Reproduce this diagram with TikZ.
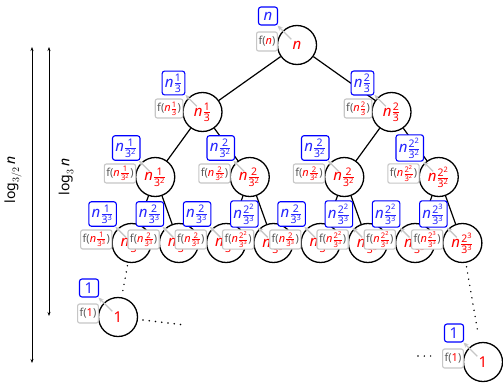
\documentclass[tikz,border=0pt]{standalone}
\usepackage{fontspec}
\setmainfont{Noto Sans}
\setsansfont{Noto Sans}
\usetikzlibrary{calc,arrows.meta}
\newcommand\nf[2]{$\mathit{n}\frac{\mathrm{#1}}{\mathrm{#2}}$}
\tikzset{
  tn/.style={circle, draw, line width=1.3pt, minimum size=39pt, inner sep=0pt, text=red, font=\fontsize{15}{17}\selectfont},
  bb/.style={draw=blue, line width=1.1pt, rounded corners=2.5pt, fill=white, text=blue!85, inner sep=2.8pt, minimum width=19pt, minimum height=18pt, font=\fontsize{15}{17}\selectfont},
  gb/.style={draw=gray!45, line width=1.1pt, rounded corners=2pt, fill=white, text=black!65, inner sep=2pt, minimum height=19pt, font=\fontsize{11}{13}\selectfont},
  pinarr/.style={draw=gray!45, line width=1.3pt, -{Stealth[length=5pt,width=4.5pt]}, shorten <=8pt},
  treeline/.style={line width=1.2pt},
  dotline/.style={line width=1.6pt, line cap=round, dash pattern=on 0pt off 6.3pt},
  dimarrow/.style={line width=0.9pt, {Stealth[length=4pt,width=3pt]}-{Stealth[length=4pt,width=3pt]}},
  dimlabel/.style={rotate=90, font=\fontsize{14}{16}\selectfont}
}
\newcommand\ann[3]{%
  \node[gb, anchor=east] (#1g) at ($(#1.west)+(1,-3.5)$) {f(\textcolor{red}{#3})};
  \node[bb] (#1b) at ($(#1)+(-29,-29)$) {#2};
  \draw[pinarr] (#1.center) -- (#1b);
}
\begin{document}
\begin{tikzpicture}[x=1pt,y=-1pt]
\useasboundingbox (0,0) rectangle (503,383);
% tree nodes
\node[tn] (r) at (297,45) {$\mathit{n}$};
\node[tn] (a1) at (202.5,112) {\nf{1}{3}};
\node[tn] (a2) at (391.5,112) {\nf{2}{3}};
\node[tn] (b1) at (155.25,177) {\nf{1}{3^2}};
\node[tn] (b2) at (249.75,177) {\nf{2}{3^2}};
\node[tn] (b3) at (344.25,177) {\nf{2}{3^2}};
\node[tn] (b4) at (438.75,177) {\nf{2^2}{3^2}};
\node[tn] (c1) at (131.6,243) {\nf{1}{3^3}};
\node[tn] (c2) at (178.9,243) {\nf{2}{3^3}};
\node[tn] (c3) at (226.1,243) {\nf{2}{3^3}};
\node[tn] (c4) at (273.4,243) {\nf{2^2}{3^3}};
\node[tn] (c5) at (320.6,243) {\nf{2}{3^3}};
\node[tn] (c6) at (367.9,243) {\nf{2^2}{3^3}};
\node[tn] (c7) at (415.1,243) {\nf{2^2}{3^3}};
\node[tn] (c8) at (462.4,243) {\nf{2^3}{3^3}};
\node[tn] (oL) at (118,317) {1};
\node[tn] (oR) at (483,362) {1};
% edges
\draw[treeline] (r) -- (a1) (r) -- (a2)
  (a1) -- (b1) (a1) -- (b2) (a2) -- (b3) (a2) -- (b4)
  (b1) -- (c1) (b1) -- (c2) (b2) -- (c3) (b2) -- (c4)
  (b3) -- (c5) (b3) -- (c6) (b4) -- (c7) (b4) -- (c8);
% dotted continuations
\coordinate (hl) at (185,325);
\coordinate (hr1) at (418,356);
\coordinate (hr2) at (433,356);
\draw[dotline, shorten <=3pt, shorten >=6pt] (c1) -- (oL);
\draw[dotline, shorten <=4pt, shorten >=9pt] (c8) -- (oR);
\draw[dotline, shorten <=5pt] (oL) -- (hl);
\draw[dotline] (hr1) -- (hr2);
% annotations
\ann{r}{$\mathit{n}$}{$\mathit{n}$}
\ann{a1}{\nf{1}{3}}{\nf{1}{3}}
\ann{a2}{\nf{2}{3}}{\nf{2}{3}}
\ann{b1}{\nf{1}{3^2}}{\nf{1}{3^2}}
\ann{b2}{\nf{2}{3^2}}{\nf{2}{3^2}}
\ann{b3}{\nf{2}{3^2}}{\nf{2}{3^2}}
\ann{b4}{\nf{2^2}{3^2}}{\nf{2^2}{3^2}}
\ann{c1}{\nf{1}{3^3}}{\nf{1}{3^3}}
\ann{c2}{\nf{2}{3^3}}{\nf{2}{3^3}}
\ann{c3}{\nf{2}{3^3}}{\nf{2}{3^3}}
\ann{c4}{\nf{2^2}{3^3}}{\nf{2^2}{3^3}}
\ann{c5}{\nf{2}{3^3}}{\nf{2}{3^3}}
\ann{c6}{\nf{2^2}{3^3}}{\nf{2^2}{3^3}}
\ann{c7}{\nf{2^2}{3^3}}{\nf{2^2}{3^3}}
\ann{c8}{\nf{2^3}{3^3}}{\nf{2^3}{3^3}}
\ann{oL}{1}{1}
\ann{oR}{1}{1}
% height arrows
\coordinate (A1t) at (32,47);
\coordinate (A1b) at (32,363);
\coordinate (A2t) at (49,47);
\coordinate (A2b) at (49,316);
\draw[dimarrow] (A1t) -- (A1b);
\draw[dimarrow] (A2t) -- (A2b);
\node[dimlabel] (L1) at (13,180) {$\log_{3/2}\mathit{n}$};
\node[dimlabel] (L2) at (66,177) {$\log_{3}\mathit{n}$};
\end{tikzpicture}
\end{document}
